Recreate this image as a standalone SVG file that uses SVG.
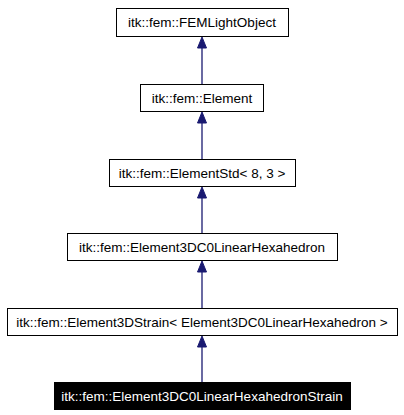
<svg xmlns="http://www.w3.org/2000/svg" width="404" height="415" viewBox="0 0 404 415">
<style>
.box{fill:#ffffff;stroke:#000000;stroke-width:1}
.sel{fill:#000000;stroke:#000000;stroke-width:1}
.t{font-family:"Liberation Sans",Arial,sans-serif;font-size:13.5px;text-anchor:middle;fill:#000000}
.tw{fill:#ffffff}
.edge{stroke:#191970;stroke-width:1.3;fill:none}
.head{fill:#191970;stroke:#191970;stroke-width:1}
</style>
<g id="connectors">
<line class="edge" x1="202" y1="84" x2="202" y2="46"/>
<polygon class="head" points="202,37 206.5,48 197.5,48"/>
<line class="edge" x1="202" y1="159" x2="202" y2="121"/>
<polygon class="head" points="202,112 206.5,123 197.5,123"/>
<line class="edge" x1="202" y1="233" x2="202" y2="196"/>
<polygon class="head" points="202,187 206.5,198 197.5,198"/>
<line class="edge" x1="202" y1="308" x2="202" y2="270"/>
<polygon class="head" points="202,261 206.5,272 197.5,272"/>
<line class="edge" x1="202" y1="382" x2="202" y2="345"/>
<polygon class="head" points="202,336 206.5,347 197.5,347"/>
</g>
<g id="n1"><rect class="box" x="116.5" y="8.5" width="172" height="28"/><text class="t" x="202" y="27">itk::fem::FEMLightObject</text></g>
<g id="n2"><rect class="box" x="140.5" y="84.5" width="123" height="27"/><text class="t" x="202" y="102.5">itk::fem::Element</text></g>
<g id="n3"><rect class="box" x="109.5" y="159.5" width="186" height="27"/><text class="t" x="202" y="177.5">itk::fem::ElementStd&lt; 8, 3 &gt;</text></g>
<g id="n4"><rect class="box" x="67.5" y="233.5" width="270" height="27"/><text class="t" x="202" y="251.5">itk::fem::Element3DC0LinearHexahedron</text></g>
<g id="n5"><rect class="box" x="7.5" y="308.5" width="390" height="27"/><text class="t" x="202" y="326.5">itk::fem::Element3DStrain&lt; Element3DC0LinearHexahedron &gt;</text></g>
<g id="n6"><rect class="sel" x="54.5" y="382.5" width="296" height="27"/><text class="t tw" x="202" y="400.5">itk::fem::Element3DC0LinearHexahedronStrain</text></g>
</svg>
